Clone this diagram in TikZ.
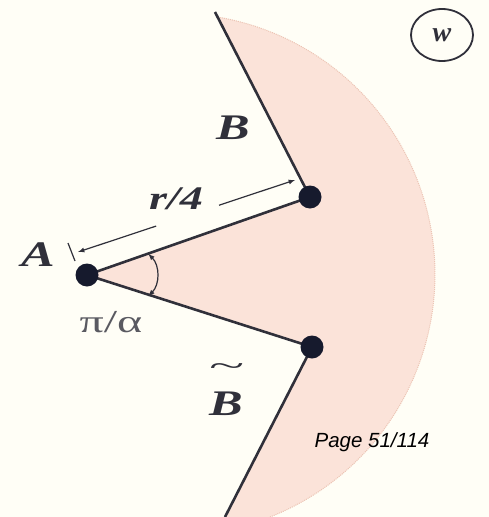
\documentclass[tikz,border=0pt]{standalone}
\usepackage{fontspec}
\setmainfont{Liberation Serif}
\newfontfamily\pagefont{Liberation Sans}
\usepackage{graphicx}
\usepackage{tikz}
\usetikzlibrary{
  calc,%
  shapes.geometric,%
  arrows
}
\pgfdeclarelayer{background}
\pgfsetlayers{background,main}
\definecolor{bgcream}{RGB}{255,254,246}
\definecolor{wedgepink}{RGB}{251,227,217}
\definecolor{rimpink}{RGB}{236,196,180}
\definecolor{inkline}{RGB}{48,48,58}
\definecolor{dotblue}{RGB}{22,26,45}
\newcommand{\wide}[1]{\scalebox{1.4}[1]{#1}}
\tikzset{>=latex}
\tikzset{font=\normalsize}
\tikzset{vertex/.style={circle, fill=dotblue, inner sep=0pt, minimum size=23pt},
  edge/.style={inkline, line width=2.6pt},
  thinline/.style={inkline, line width=1.2pt},
  lbl/.style={text=inkline, inner sep=0pt, font=\fontsize{36}{36}\selectfont\bfseries\itshape}}

\begin{document}
\begin{tikzpicture}[x=1pt, y=-1pt]
  \useasboundingbox (0,0) rectangle (489,517);
  % the three points
  \node[vertex] (A) at (87,275) {};
  \node[vertex] (B) at (310,197) {};
  \node[vertex] (Bt) at (312,347) {};
  \coordinate (Btop) at (215,12);
  \coordinate (Bbot) at (225,517);
  \coordinate (rimbot) at (270,517);
  % shaded part of the disc
  \begin{pgfonlayer}{background}
    \fill[bgcream] (0,0) rectangle (489,517);
    \fill[wedgepink] (Btop) -- (B.center) -- (A.center) -- (Bt.center) -- (Bbot) -- (rimbot)
      arc[start angle=68.4, end angle=-79.9, radius=261] -- cycle;
    \draw[rimpink, densely dotted, line width=1pt] (rimbot)
      arc[start angle=68.4, end angle=-79.9, radius=261];
    \draw[edge] (Btop) -- (B.center);
    \draw[edge] (B.center) -- (A.center) -- (Bt.center);
    \draw[edge] (Bt.center) -- (Bbot);
  \end{pgfonlayer}
  % distance r/4
  \coordinate (dimL) at (78,252);
  \coordinate (dimR) at (295,180);
  \coordinate (gapL) at ($(dimL)!0.36!(dimR)$);
  \coordinate (gapR) at ($(dimL)!0.65!(dimR)$);
  \coordinate (tickT) at (68,243);
  \coordinate (tickB) at (75,261);
  \draw[thinline] (tickT) -- (tickB);
  \draw[thinline, ->] (gapL) -- (dimL);
  \draw[thinline, ->] (gapR) -- (dimR);
  \node[lbl, font=\fontsize{33}{33}\selectfont\bfseries\itshape] (dist) at (176,199) {\wide{r/4}};
  % angle at A
  \coordinate (angc) at ($(A)+(40,0)$);
  \draw[thinline, <->] ($(angc)+(-45:30)$) arc[start angle=-45, end angle=45, radius=30];
  \node[text=inkline!80, inner sep=0pt, font=\fontsize{32}{32}\selectfont] (ang) at (111,322) {\scalebox{1.5}[1]{π/α}};
  % labels
  \node[lbl] (Alab) at (38,255) {\wide{A}};
  \node[lbl] (Blab) at (233,128) {\wide{B}};
  \node[lbl] (Btlab) at (226,388) {\begin{tabular}{@{}c@{}}\scalebox{1.8}[0.8]{\mdseries\char"7E}\\[0.1em]\wide{B}\end{tabular}};
  \node[draw=inkline, ellipse, line width=1.8pt, inner sep=0pt, minimum width=62pt, minimum height=52pt,
    text=inkline, font=\fontsize{28}{28}\selectfont\bfseries\itshape] (wmark) at (442,35) {w};
  \node[inner sep=0pt, font=\pagefont\itshape\fontsize{20.5}{20.5}\selectfont] (page) at (372,442) {Page 51/114};
\end{tikzpicture}
\end{document}
